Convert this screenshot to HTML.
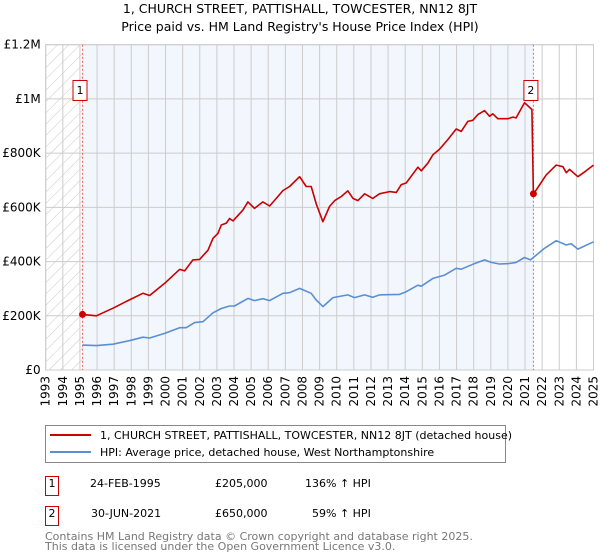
<!DOCTYPE html>
<html><head><meta charset="utf-8"><style>
body{margin:0;background:#fff;font-family:"DejaVu Sans","Liberation Sans",sans-serif;}
#wrap{position:relative;width:600px;height:560px;overflow:hidden}
</style></head><body><div id="wrap">
<svg id="chart" width="600" height="560" xmlns="http://www.w3.org/2000/svg" font-family="DejaVu Sans, Liberation Sans, sans-serif">
<defs><pattern id="hatch" width="8" height="8" patternUnits="userSpaceOnUse" patternTransform="rotate(45)"><line x1="0" y1="0" x2="0" y2="8" stroke="#bbb" stroke-width="0.8"/></pattern></defs>
<text x="300" y="13" text-anchor="middle" font-size="12.5" fill="#000">1, CHURCH STREET, PATTISHALL, TOWCESTER, NN12 8JT</text>
<text x="300" y="31" text-anchor="middle" font-size="12.5" fill="#000">Price paid vs. HM Land Registry's House Price Index (HPI)</text>
<g id="plot"></g>
<g>
<rect x="45.5" y="425.5" width="460" height="37" fill="#fff" stroke="#888"/>
<line x1="50" y1="435" x2="91" y2="435" stroke="#cc0000" stroke-width="2"/>
<text x="100" y="439" font-size="11">1, CHURCH STREET, PATTISHALL, TOWCESTER, NN12 8JT (detached house)</text>
<line x1="50" y1="452" x2="91" y2="452" stroke="#5b8fd4" stroke-width="2"/>
<text x="100" y="456" font-size="11">HPI: Average price, detached house, West Northamptonshire</text>
</g>
<g font-size="11">
<rect x="45.5" y="476.5" width="13" height="19" fill="#fff" stroke="#cc0000"/>
<text x="52" y="487" text-anchor="middle">1</text>
<text x="90" y="487">24-FEB-1995</text><text x="215" y="487">£205,000</text><text x="305" y="487">136% ↑ HPI</text>
<rect x="45.5" y="506.5" width="13" height="19" fill="#fff" stroke="#cc0000"/>
<text x="52" y="517" text-anchor="middle">2</text>
<text x="91" y="517">30-JUN-2021</text><text x="215" y="517">£650,000</text><text x="312" y="517">59% ↑ HPI</text>
</g>
<text x="45" y="540" font-size="11" fill="#777">Contains HM Land Registry data © Crown copyright and database right 2025.</text>
<text x="45" y="550" font-size="11" fill="#777">This data is licensed under the Open Government Licence v3.0.</text>
</svg></div>
<script>
const redYears=[1995.15,1995.96,1996.93,1997.71,1998.68,1999.07,1999.95,2000.82,2001.12,2001.60,2001.99,2002.48,2002.77,2003.06,2003.26,2003.55,2003.74,2003.94,2004.52,2004.81,2005.20,2005.69,2006.08,2006.47,2006.86,2007.25,2007.83,2008.22,2008.51,2008.81,2009.19,2009.58,2009.88,2010.27,2010.65,2010.95,2011.24,2011.63,2012.11,2012.50,2013.09,2013.48,2013.77,2014.06,2014.74,2014.94,2015.32,2015.62,2016.01,2016.49,2016.98,2017.27,2017.66,2017.95,2018.24,2018.64,2018.93,2019.12,2019.41,2020.00,2020.29,2020.48,2020.97,2021.40,2021.49,2021.65,2022.23,2022.82,2023.21,2023.41,2023.60,2024.09,2024.57,2025.0];
const redValues=[205,200,228,253,283,275,320,371,366,406,408,442,486,504,535,542,559,550,590,620,596,620,605,633,662,677,713,677,677,612,547,603,625,640,661,633,625,650,633,650,658,655,684,690,748,735,763,794,815,850,889,880,917,921,942,957,936,945,927,927,933,930,986,961,650,664,719,756,750,728,740,713,735,756];
const blueYears=[1995.15,1995.96,1996.93,1998.0,1998.68,1999.07,1999.95,2000.82,2001.21,2001.70,2002.19,2002.77,2003.26,2003.74,2004.03,2004.81,2005.20,2005.69,2006.08,2006.86,2007.25,2007.83,2008.51,2008.81,2009.19,2009.78,2010.65,2011.04,2011.63,2012.11,2012.50,2013.67,2014.06,2014.74,2014.94,2015.62,2016.30,2016.98,2017.27,2017.95,2018.64,2019.02,2019.51,2020.09,2020.48,2020.97,2021.32,2022.14,2022.82,2023.41,2023.70,2024.09,2025.0];
const blueValues=[92,90,95,110,121,118,135,156,156,175,178,211,227,236,236,264,256,263,256,283,285,301,283,258,234,267,277,267,277,268,277,279,289,313,309,338,350,375,372,390,406,397,391,393,397,415,406,449,477,461,466,446,473];
const saleYears=[1995.15,2021.49];
const saleValues=[205,650];
const saleLabels=['1','2'];
const yTicks=[0,200,400,600,800,1000,1200];
const yTickLabels=['£0','£200K','£400K','£600K','£800K','£1M','£1.2M'];
const xTicks=[];for(let y=1993;y<=2025;y++)xTicks.push(y);

const NS='http://www.w3.org/2000/svg';
const L=45.7,R=593.5,T=44.7,B=370;
const xs=v=>L+(v-1993)/32*(R-L);
const ys=v=>B-v/1200*(B-T);
const g=document.getElementById('plot');
function mk(tag,attrs,parent){const e=document.createElementNS(NS,tag);for(const k in attrs)e.setAttribute(k,attrs[k]);(parent||g).appendChild(e);return e;}
let e;
e=mk('rect',{x:L,y:T,width:R-L,height:B-T,fill:'#fff'});


e=mk('rect',{x:L,y:T,width:xs(saleYears[0])-L,height:B-T,fill:'url(#hatch)'});


e=mk('rect',{x:xs(saleYears[0]),y:T,width:xs(saleYears[1])-xs(saleYears[0]),height:B-T,fill:'#f2f6fd'});


yTicks.forEach((t,i)=>{
  e=mk('line',{x1:L,x2:R,y1:ys(t),y2:ys(t),stroke:'#ccc','stroke-width':1});
  
  
  e=mk('text',{x:L-5,y:ys(t)+4,'text-anchor':'end','font-size':12,fill:'#000'});
  e.textContent=yTickLabels[i];
  
  
});
xTicks.forEach(t=>{
  e=mk('line',{x1:xs(t),x2:xs(t),y1:T,y2:B,stroke:'#ccc','stroke-width':1});
  
  
  const x=xs(t)+4;
  e=mk('text',{x:x,y:B+6,'text-anchor':'end','font-size':12,transform:`rotate(-90 ${x} ${B+6})`});
  e.textContent=t;
  
  
});
e=mk('rect',{x:L,y:T,width:R-L,height:B-T,fill:'none',stroke:'#ccc'});


saleYears.forEach((s,i)=>{
  e=mk('line',{x1:xs(s),x2:xs(s),y1:T,y2:B,stroke:'#e66','stroke-width':1,'stroke-dasharray':'2,2'});
  
  
});
function path(xa,va,color,name){
  const d=xa.map((x,i)=>(i?'L':'M')+xs(x).toFixed(1)+','+ys(va[i]).toFixed(1)).join('');
  const p=mk('path',{d:d,fill:'none',stroke:color,'stroke-width':1.6,'stroke-linejoin':'round'});
  
  
}
path(blueYears,blueValues,'#5b8fd4','hpi-line');
path(redYears,redValues,'#cc0000','property-price-line');
saleYears.forEach((s,i)=>{
  e=mk('circle',{cx:xs(s),cy:ys(saleValues[i]),r:3.5,fill:'#cc0000'});
  
  
  const bx=xs(s)-9.5;
  e=mk('rect',{x:bx,y:80.5,width:14,height:20,fill:'#fff',stroke:'#cc0000'});
  
  
  e=mk('text',{x:bx+7,y:94,'text-anchor':'middle','font-size':11});
  e.textContent=saleLabels[i];
  
  
});
</script></body></html>
